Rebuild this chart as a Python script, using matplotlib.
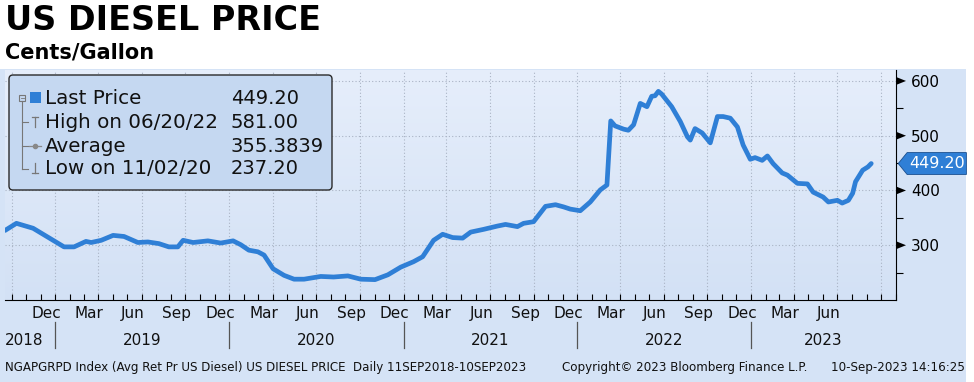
import numpy as np
import pandas as pd
import matplotlib
matplotlib.use("Agg")
import matplotlib.pyplot as plt
import matplotlib.dates as mdates
from matplotlib.patches import FancyBboxPatch, Rectangle, Polygon
from matplotlib.transforms import blended_transform_factory

# ---- data (cents / gallon) ----
dates = [
    "2018-09-17", "2018-10-11", "2018-11-15", "2019-01-19", "2019-02-09", "2019-03-06",
    "2019-03-17", "2019-04-07", "2019-05-02", "2019-05-25", "2019-06-23", "2019-07-14",
    "2019-08-06", "2019-08-27", "2019-09-15", "2019-09-26", "2019-10-17", "2019-11-17",
    "2019-12-14", "2020-01-09", "2020-01-25", "2020-02-11", "2020-03-01", "2020-03-14",
    "2020-04-02", "2020-04-25", "2020-05-16", "2020-06-06", "2020-07-11", "2020-08-07",
    "2020-09-06", "2020-10-03", "2020-11-02", "2020-11-29", "2020-12-26", "2021-01-22",
    "2021-02-10", "2021-03-05", "2021-03-24", "2021-04-14", "2021-05-05", "2021-05-22",
    "2021-06-18", "2021-07-17", "2021-08-03", "2021-08-28", "2021-09-10", "2021-10-01",
    "2021-10-26", "2021-11-16", "2021-12-03", "2021-12-17", "2022-01-07", "2022-01-28",
    "2022-02-18", "2022-03-04", "2022-03-12", "2022-03-21", "2022-04-08", "2022-04-18",
    "2022-04-29", "2022-05-13", "2022-05-27", "2022-06-06", "2022-06-13", "2022-06-20",
    "2022-06-27", "2022-07-18", "2022-08-05", "2022-08-20", "2022-08-26", "2022-09-05",
    "2022-09-20", "2022-10-07", "2022-10-22", "2022-11-03", "2022-11-18", "2022-12-03",
    "2022-12-15", "2022-12-30", "2023-01-09", "2023-01-24", "2023-02-04", "2023-02-16",
    "2023-03-07", "2023-03-18", "2023-04-08", "2023-04-29", "2023-05-11", "2023-06-01",
    "2023-06-12", "2023-07-01", "2023-07-11", "2023-07-24", "2023-08-02", "2023-08-08",
    "2023-08-23", "2023-09-03", "2023-09-10",
]
price = [
    327, 340, 331, 297, 297, 307,
    305, 309, 318, 316, 305, 306,
    303, 297, 297, 309, 305, 308,
    304, 308, 301, 291, 288, 282,
    257, 245, 238, 238, 243, 242,
    244, 238, 237.2, 246, 260, 270,
    279, 309, 320, 314, 313, 324,
    329, 335, 338, 334, 340, 343,
    371, 374, 370, 366, 363, 379,
    401, 410, 527, 518, 512, 510,
    520, 559, 553, 572, 573, 581,
    576, 553, 526, 498, 492, 513,
    505, 487, 535, 535, 532, 516,
    483, 457, 460, 455, 463, 449,
    432, 428, 413, 412, 397, 388,
    379, 382, 377, 382, 395, 416,
    437, 443, 449.2,
]

legend_labels = ["Last Price", "High on 06/20/22", "Average", "Low on 11/02/20"]
legend_values = ["449.20", "581.00", "355.3839", "237.20"]
last_price = 449.20

y_ticks = [300, 400, 500, 600]
month_labels = {12: "Dec", 3: "Mar", 6: "Jun", 9: "Sep"}
years = [2018, 2019, 2020, 2021, 2022, 2023]

x = pd.to_datetime(dates)
x_start, x_end = pd.Timestamp("2018-09-17"), pd.Timestamp("2023-11-01")

W, H = 974, 382
fig = plt.figure(figsize=(W / 100, H / 100), dpi=100)
fig.patch.set_facecolor("white")

BLUE = "#2f7fd6"
PANEL = "#d5e3f6"
FONT = "DejaVu Sans"

# light blue panel behind the chart
fig.add_artist(Rectangle((0, 0), 966 / W, 1 - 69 / H, transform=fig.transFigure,
                         facecolor=PANEL, edgecolor="none", zorder=0))

def fx(px):
    return px / W

def fy(py):
    return 1 - py / H

ax = fig.add_axes([fx(5), fy(300), fx(896) - fx(5), fy(70) - fy(300)])
ax.set_facecolor("none")

# gradient background
grad = np.linspace(0, 1, 256).reshape(-1, 1)
cmap = matplotlib.colors.LinearSegmentedColormap.from_list("bg", ["#e6eefb", "#d3e1f5"])
ax.imshow(grad, extent=[0, 1, 0, 1], transform=ax.transAxes, cmap=cmap,
          aspect="auto", zorder=0, origin="upper")

ax.plot(x, price, color=BLUE, lw=3.4, solid_joinstyle="round", solid_capstyle="round", zorder=3)

ax.set_xlim(x_start, x_end)
ax.set_ylim(200, 620)

# grid
for v in y_ticks:
    ax.axhline(v, color="#a9b3c4", lw=0.8, ls=(0, (1, 2)), zorder=1)
for q in pd.date_range("2018-10-01", "2023-10-01", freq="QS"):
    ax.axvline(q, color="#a9b3c4", lw=0.8, ls=(0, (1, 2)), zorder=1)

for s in ["top", "left"]:
    ax.spines[s].set_visible(False)
ax.spines["bottom"].set_color("black")
ax.spines["right"].set_color("black")

# x ticks: monthly, pointing inward
ax.xaxis.set_major_locator(mdates.MonthLocator())
ax.tick_params(axis="x", direction="in", length=4, width=0.8, labelbottom=False)

# y axis on right
ax.yaxis.tick_right()
ax.set_yticks(y_ticks)
ax.set_yticks([250, 350, 450, 550], minor=True)
ax.tick_params(axis="y", which="major", length=0, pad=11, labelsize=11, labelcolor="black")
ax.tick_params(axis="y", which="minor", length=5, width=0.8, direction="out")
for lab in ax.get_yticklabels():
    lab.set_fontfamily(FONT)
ytr = blended_transform_factory(ax.transAxes, ax.transData)
tw = 10 / 891
th = 4 * 420 / 230
for v in y_ticks:
    ax.add_patch(Polygon([[1.0, v + th], [1.0 + tw, v], [1.0, v - th]], closed=True,
                         transform=ytr, facecolor="black", edgecolor="none",
                         clip_on=False, zorder=5))

# month & year labels
xtr = blended_transform_factory(ax.transData, ax.transAxes)
for m in pd.date_range("2018-10-01", "2023-06-01", freq="MS"):
    if m.month in month_labels:
        mid = m + pd.Timedelta(days=12)
        ax.text(mid, -0.058, month_labels[m.month], transform=xtr, ha="center", va="center",
                fontsize=11, family=FONT, color="#111111")
for yr in years:
    a = max(pd.Timestamp(f"{yr}-01-01"), x_start)
    b = min(pd.Timestamp(f"{yr + 1}-01-01"), x_end)
    if yr == years[0]:
        ax.text(0.0, -0.175, str(yr), transform=ax.transAxes, ha="left", va="center",
                fontsize=11, family=FONT, color="#111111")
    else:
        ax.text(a + (b - a) / 2, -0.175, str(yr), transform=xtr, ha="center", va="center",
                fontsize=11, family=FONT, color="#111111")
        ax.plot([a, a], [-0.096, -0.209], transform=xtr, color="#555555", lw=0.9, clip_on=False)

# last price tag
tip = 0.0025
ax.add_patch(Polygon([[1 + tip, last_price], [1 + tip + 0.01, last_price + 20],
                      [1.079, last_price + 20], [1.079, last_price - 20],
                      [1 + tip + 0.01, last_price - 20]], closed=True,
                     transform=ytr, facecolor=BLUE, edgecolor="#1a4f8f", lw=0.6,
                     clip_on=False, zorder=6))
ax.text(1.046, last_price, f"{last_price:.2f}", transform=ytr, ha="center", va="center",
        fontsize=11.5, family=FONT, color="white", zorder=7)

# titles
fig.text(fx(5), fy(20), "US DIESEL PRICE", fontsize=24, fontweight="bold", family=FONT,
         va="center", ha="left")
fig.text(fx(5), fy(52), "Cents/Gallon", fontsize=15, fontweight="bold", family=FONT,
         va="center", ha="left")

# footer
fig.text(fx(5), fy(368), "NGAPGRPD Index (Avg Ret Pr US Diesel) US DIESEL PRICE  Daily 11SEP2018-10SEP2023",
         fontsize=8.6, family=FONT, va="center", ha="left", color="#111111")
fig.text(fx(562), fy(368), "Copyright\u00a9 2023 Bloomberg Finance L.P.",
         fontsize=8.6, family=FONT, va="center", ha="left", color="#111111")
fig.text(fx(965), fy(368), "10-Sep-2023 14:16:25",
         fontsize=8.6, family=FONT, va="center", ha="right", color="#111111")

# legend box (overlay axes in pixel coords)
ov = fig.add_axes([0, 0, 1, 1], zorder=10)
ov.set_xlim(0, W)
ov.set_ylim(H, 0)
ov.axis("off")
ov.add_patch(FancyBboxPatch((9, 75), 323, 115, boxstyle="round,pad=0,rounding_size=4",
                            facecolor="#c5d8f1", edgecolor="#2a2a2a", lw=1.0))
rows_y = [98, 122, 146, 169]
for yy, lab, val in zip(rows_y, legend_labels, legend_values):
    ov.text(45, yy, lab, fontsize=14.3, family=FONT, va="center", ha="left", color="#111111")
    ov.text(231, yy, val, fontsize=14, family=FONT, va="center", ha="left", color="#111111")
# tree lines
ov.plot([22, 22], [101, 169], color="#777777", lw=0.8)
for yy in rows_y[1:]:
    ov.plot([22, 28], [yy, yy], color="#777777", lw=0.8)
ov.add_patch(Rectangle((19, 95), 6, 6, facecolor="#c5d8f1", edgecolor="#777777", lw=0.8))
ov.plot([20.5, 23.5], [98, 98], color="#777777", lw=0.6)
ov.add_patch(Rectangle((30, 92), 11, 11, facecolor=BLUE, edgecolor="none"))
# high icon
ov.plot([32, 38], [117, 117], color="#777777", lw=0.9)
ov.plot([35, 35], [117, 127], color="#777777", lw=0.9)
# average icon
ov.plot([29, 41], [146, 146], color="#888888", lw=0.9)
ov.plot([35], [146], marker="o", ms=3, color="#888888")
# low icon
ov.plot([35, 35], [163, 173], color="#777777", lw=0.9)
ov.plot([32, 38], [173, 173], color="#777777", lw=0.9)

fig.savefig("out.png", dpi=100, facecolor=fig.get_facecolor())
